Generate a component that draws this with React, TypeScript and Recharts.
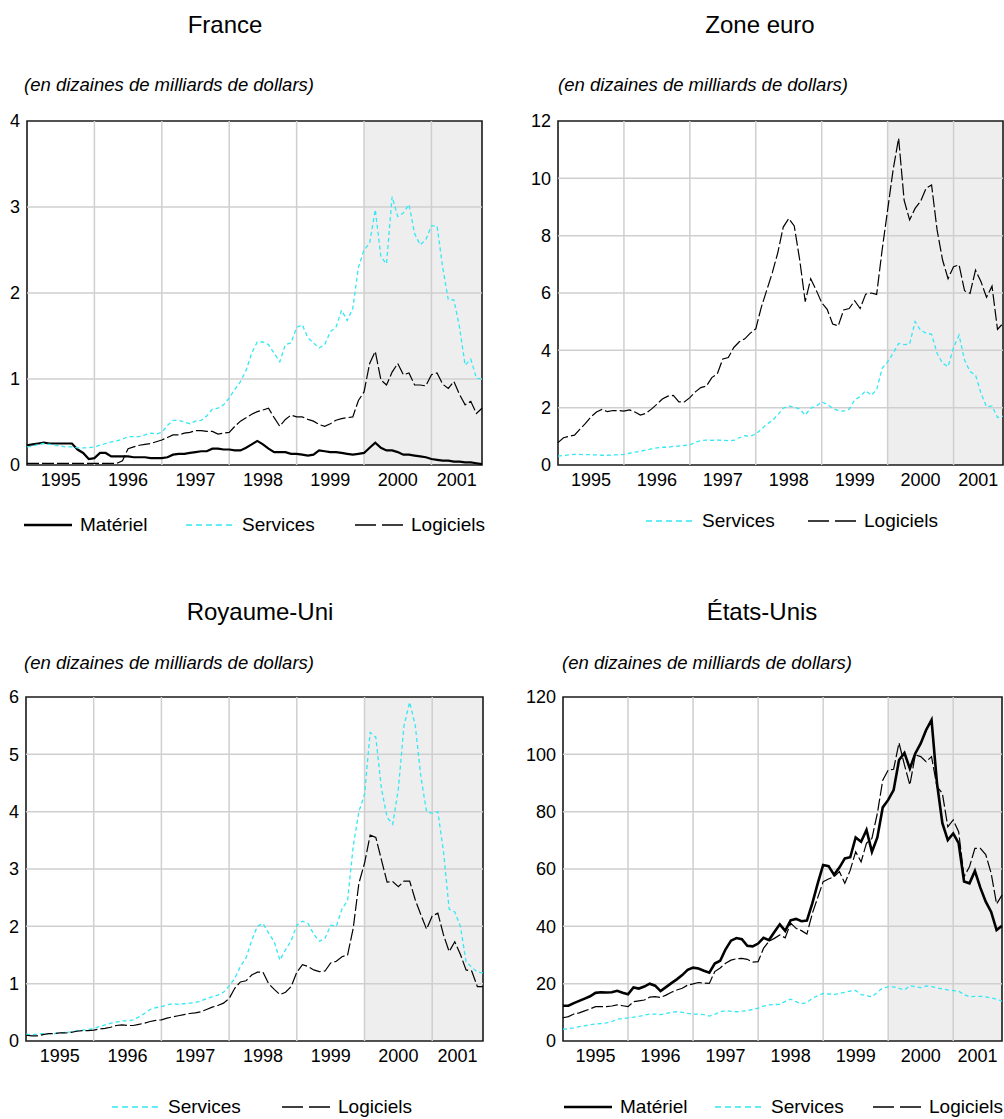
import { LineChart, Line, XAxis, YAxis, ReferenceArea, ReferenceLine } from "recharts";

// months since Jan 1995 (0 .. 81 ≈ Oct 2001)
const months = Array.from({ length: 82 }, (_, i) => i);
const years = ["1995", "1996", "1997", "1998", "1999", "2000", "2001"];
const yearLabelPos = [6, 18, 30, 42, 54, 66, 76.5];
const yearBounds = [12, 24, 36, 48, 60, 72];
const shadeFrom = 60;
const lastMonth = 81;

const franceMateriel = [
  0.23, 0.24, 0.25, 0.26, 0.25, 0.25, 0.25, 0.25, 0.25, 0.18, 0.14, 0.07, 0.08, 0.14, 0.14, 0.1, 0.1, 0.1, 0.1, 0.09,
  0.09, 0.09, 0.08, 0.08, 0.08, 0.09, 0.12, 0.13, 0.13, 0.14, 0.15, 0.16, 0.16, 0.19, 0.19, 0.18, 0.18, 0.17, 0.17, 0.2,
  0.24, 0.28, 0.24, 0.19, 0.15, 0.15, 0.15, 0.13, 0.13, 0.12, 0.11, 0.12, 0.17, 0.16, 0.15, 0.15, 0.14, 0.13, 0.12, 0.13,
  0.14, 0.2, 0.26, 0.2, 0.17, 0.17, 0.15, 0.12, 0.12, 0.11, 0.1, 0.09, 0.07, 0.06, 0.05, 0.05, 0.04, 0.04, 0.03, 0.03,
  0.02, 0.01,
];
const franceServices = [
  0.21, 0.22, 0.24, 0.25, 0.24, 0.23, 0.22, 0.21, 0.21, 0.2, 0.2, 0.2, 0.21, 0.23, 0.25, 0.27, 0.28, 0.3, 0.33, 0.33,
  0.33, 0.35, 0.37, 0.36, 0.38, 0.46, 0.52, 0.52, 0.5, 0.48, 0.51, 0.52, 0.57, 0.65, 0.66, 0.7, 0.78, 0.88, 0.97, 1.1,
  1.3, 1.43, 1.43, 1.4, 1.3, 1.2, 1.4, 1.42, 1.6, 1.63, 1.48, 1.42, 1.36, 1.4, 1.55, 1.6, 1.8, 1.68, 1.82, 2.3,
  2.5, 2.58, 2.97, 2.42, 2.34, 3.12, 2.89, 2.93, 3.03, 2.69, 2.56, 2.62, 2.78, 2.78, 2.3, 1.92, 1.92, 1.6, 1.16, 1.23,
  1.01, 1.0,
];
const franceLogiciels = [
  0.02, 0.02, 0.02, 0.02, 0.02, 0.02, 0.02, 0.02, 0.02, 0.02, 0.02, 0.02, 0.02, 0.02, 0.02, 0.02, 0.02, 0.05, 0.19, 0.21,
  0.23, 0.24, 0.25, 0.27, 0.29, 0.32, 0.35, 0.35, 0.37, 0.38, 0.4, 0.4, 0.39, 0.39, 0.36, 0.37, 0.38, 0.45, 0.51, 0.55,
  0.59, 0.62, 0.64, 0.66, 0.55, 0.45, 0.53, 0.58, 0.56, 0.56, 0.53, 0.51, 0.47, 0.45, 0.48, 0.52, 0.54, 0.55, 0.56, 0.75,
  0.85, 1.18, 1.32, 0.99, 0.93, 1.08, 1.18, 1.05, 1.07, 0.93, 0.93, 0.92, 1.05, 1.07, 0.94, 0.89, 0.97, 0.82, 0.7, 0.74,
  0.6, 0.66,
];

const euroServices = [
  0.31, 0.33, 0.35, 0.37, 0.37, 0.36, 0.36, 0.35, 0.34, 0.34, 0.35, 0.35, 0.37, 0.41, 0.45, 0.48, 0.52, 0.56, 0.6, 0.62,
  0.62, 0.65, 0.66, 0.68, 0.7, 0.8, 0.85, 0.87, 0.86, 0.87, 0.86, 0.85, 0.86, 0.95, 1.02, 1.0, 1.08, 1.25, 1.42, 1.55,
  1.75, 1.98, 2.06, 2.02, 1.95, 1.74, 1.98, 2.05, 2.2, 2.12, 1.98, 1.9, 1.88, 1.95, 2.27, 2.39, 2.59, 2.43, 2.62, 3.37,
  3.6, 3.9, 4.24, 4.2, 4.22, 5.0, 4.7, 4.6, 4.56, 3.9, 3.55, 3.43, 4.1, 4.53, 3.66, 3.26, 3.14, 2.5, 2.03, 2.06,
  1.66, 1.7,
];
const euroLogiciels = [
  0.78, 0.95, 1.0, 1.04, 1.25, 1.45, 1.68, 1.85, 1.94, 1.86, 1.9, 1.9, 1.88, 1.92, 1.85, 1.74, 1.8, 1.95, 2.12, 2.3,
  2.4, 2.43, 2.2, 2.2, 2.35, 2.55, 2.7, 2.75, 3.05, 3.18, 3.7, 3.75, 4.1, 4.3, 4.4, 4.6, 4.75, 5.5, 6.1, 6.7,
  7.4, 8.3, 8.6, 8.34, 7.15, 5.7, 6.5, 6.1, 5.66, 5.43, 4.92, 4.85, 5.41, 5.46, 5.73, 5.46, 5.96, 6.0, 5.95, 7.5,
  8.9, 10.3, 11.4, 9.24, 8.55, 8.95, 9.2, 9.65, 9.77, 8.2, 7.15, 6.5, 6.92, 6.98, 6.08, 5.99, 6.8, 6.39, 5.85, 6.24,
  4.73, 4.94,
];

const ukServices = [
  0.12, 0.11, 0.12, 0.13, 0.13, 0.13, 0.14, 0.15, 0.16, 0.18, 0.19, 0.2, 0.22, 0.25, 0.28, 0.31, 0.33, 0.35, 0.35, 0.37,
  0.42, 0.48, 0.55, 0.58, 0.6, 0.63, 0.65, 0.64, 0.65, 0.66, 0.67, 0.7, 0.74, 0.77, 0.8, 0.85, 0.96, 1.09, 1.3, 1.45,
  1.75, 2.0, 2.05, 1.88, 1.73, 1.41, 1.59, 1.75, 2.02, 2.09, 2.05, 1.86, 1.74, 1.79, 2.02, 2.0, 2.3, 2.45, 3.4, 4.0,
  4.3, 5.38, 5.3, 4.4, 3.9, 3.78, 4.4, 5.5, 5.91, 5.5, 4.6, 4.0, 3.97, 4.0, 3.3, 2.3, 2.25, 2.0, 1.38, 1.29,
  1.2, 1.19,
];
const ukLogiciels = [
  0.1, 0.09, 0.09, 0.11, 0.13, 0.13, 0.14, 0.14, 0.15, 0.17, 0.18, 0.18, 0.19, 0.21, 0.22, 0.24, 0.27, 0.28, 0.27, 0.27,
  0.29, 0.31, 0.34, 0.36, 0.37, 0.4, 0.42, 0.44, 0.46, 0.48, 0.49, 0.51, 0.55, 0.59, 0.62, 0.66, 0.74, 0.92, 1.03, 1.05,
  1.15, 1.2, 1.2, 1.0, 0.9, 0.81, 0.85, 0.95, 1.2, 1.33, 1.3, 1.24, 1.21, 1.22, 1.36, 1.39, 1.47, 1.5, 1.97, 2.75,
  3.1, 3.59, 3.55, 3.16, 2.77, 2.78, 2.69, 2.79, 2.79, 2.46, 2.2, 1.95, 2.18, 2.23, 1.85, 1.56, 1.73, 1.51, 1.24, 1.22,
  0.95, 0.95,
];

const usMateriel = [
  12.3, 12.3, 13.2, 14.0, 14.8, 15.6, 16.8, 17.0, 16.9, 17.0, 17.5, 16.8, 16.3, 18.7, 18.3, 19.0, 20.0, 19.3, 17.4, 18.8,
  20.2, 21.5, 23.0, 24.8, 25.6, 25.3, 24.5, 23.8, 27.0, 28.0, 32.0, 35.0, 35.9, 35.5, 33.2, 33.0, 34.0, 36.0, 35.2, 38.0,
  40.7, 38.4, 42.1, 42.6, 41.8, 42.0, 48.0, 55.0, 61.4, 61.0, 58.0, 60.5, 63.7, 64.1, 71.0, 69.5, 73.6, 66.0, 71.0, 81.5,
  84.1, 87.5, 98.0, 100.5, 95.0, 100.3, 103.8, 108.5, 112.0, 90.0, 76.0, 70.1, 72.4, 69.0, 55.6, 55.0, 59.3, 53.5, 48.6, 45.0,
  38.7, 40.2,
];
const usServices = [
  4.1, 4.3, 4.6, 5.0, 5.3, 5.7, 5.9, 6.1, 6.3, 6.8, 7.6, 7.8, 8.1, 8.3, 8.6, 9.0, 9.4, 9.4, 9.2, 9.6,
  10.0, 10.2, 10.0, 9.6, 9.4, 9.4, 9.2, 8.7, 9.3, 10.2, 10.6, 10.3, 10.2, 10.4, 10.6, 11.0, 11.5, 12.2, 12.6, 12.7,
  12.8, 13.8, 14.6, 13.7, 13.0, 13.4, 14.9, 15.8, 16.6, 16.4, 16.2, 16.6, 17.0, 17.4, 17.6, 16.2, 15.8, 15.4, 17.0, 18.5,
  18.9, 18.9, 18.4, 17.8, 19.3, 18.9, 18.6, 19.2, 19.0, 18.5, 18.2, 17.8, 17.6, 17.4, 16.2, 15.4, 15.6, 15.6, 15.4, 15.0,
  14.6, 13.9,
];
const usLogiciels = [
  8.1, 8.5, 9.4, 9.8, 10.5, 11.2, 12.0, 12.0, 12.0, 12.2, 12.6, 12.3, 12.0, 13.7, 14.0, 14.3, 15.3, 15.5, 15.2, 16.0,
  17.0, 17.8, 18.4, 19.5, 19.9, 20.4, 20.2, 20.1, 24.2, 25.5, 27.1, 28.2, 28.7, 28.8, 28.5, 27.5, 27.7, 32.3, 34.8, 35.8,
  37.0, 36.0, 41.1, 39.3, 38.5, 37.3, 44.5, 50.0, 55.6, 56.5, 57.3, 59.1, 55.0, 59.6, 66.0, 62.5, 69.0, 70.7, 79.4, 91.0,
  94.5, 94.8, 104.0, 96.3, 89.3, 99.8, 99.2, 97.4, 99.2, 88.7, 86.4, 74.7, 77.1, 73.0, 57.3, 60.8, 67.2, 67.2, 65.0, 58.5,
  47.8, 50.9,
];

const FONT = "'Liberation Sans', Arial, Helvetica, sans-serif";
const CYAN = "#33e8f5";

type Kind = "materiel" | "services" | "logiciels";
const LABELS: Record<Kind, string> = { materiel: "Matériel", services: "Services", logiciels: "Logiciels" };

function lineStyle(kind: Kind, heavy = false) {
  if (kind === "materiel") return { stroke: "#000", strokeWidth: heavy ? 2.6 : 2.2 };
  if (kind === "services") return { stroke: CYAN, strokeWidth: 1.3, strokeDasharray: "4 3" };
  return { stroke: "#000", strokeWidth: 1.2, strokeDasharray: "12 3" };
}

type PanelProps = {
  left: number;
  top: number;
  yWidth: number;
  plotW: number;
  plotH: number;
  yMax: number;
  yTicks: number[];
  series: { kind: Kind; values: number[] }[];
  heavy?: boolean;
};

function Panel({ left, top, yWidth, plotW, plotH, yMax, yTicks, series, heavy }: PanelProps) {
  const rows = months.map((t, i) => {
    const row: Record<string, number> = { t };
    series.forEach((s) => (row[s.kind] = s.values[i]));
    return row;
  });
  const tick = { fill: "#000", fontSize: 18, fontFamily: FONT };
  return (
    <div style={{ position: "absolute", left, top }}>
      <LineChart width={yWidth + plotW + 2} height={10 + plotH + 30} data={rows} margin={{ top: 10, right: 2, bottom: 0, left: 0 }}>
        <XAxis
          type="number"
          dataKey="t"
          domain={[0, lastMonth]}
          ticks={yearLabelPos}
          interval={0}
          tickFormatter={(v) => years[yearLabelPos.indexOf(Number(v))] ?? ""}
          tick={tick}
          tickLine={false}
          axisLine={false}
          tickMargin={2}
          height={30}
        />
        <YAxis domain={[0, yMax]} ticks={yTicks} interval={0} width={yWidth} tick={tick} tickLine={false} axisLine={false} tickMargin={1} />
        <ReferenceArea x1={shadeFrom} x2={lastMonth} y1={0} y2={yMax} fill="#000" fillOpacity={0.065} stroke="none" />
        {yearBounds.map((x) => (
          <ReferenceLine key={"x" + x} x={x} stroke="#cfcfcf" strokeWidth={1.5} />
        ))}
        {yTicks.slice(1, -1).map((y) => (
          <ReferenceLine key={"y" + y} y={y} stroke="#cfcfcf" strokeWidth={1.5} />
        ))}
        {series.map((s) => (
          <Line key={s.kind} type="linear" dataKey={s.kind} dot={false} activeDot={false} isAnimationActive={false} {...lineStyle(s.kind, heavy)} />
        ))}
        <ReferenceArea x1={0} x2={lastMonth} y1={0} y2={yMax} fill="none" stroke="#1a1a1a" strokeWidth={1.6} />
      </LineChart>
    </div>
  );
}

function LegendRow({ top, items }: { top: number; items: { kind: Kind; x: number }[] }) {
  return (
    <>
      {items.map(({ kind, x }) => {
        const st = lineStyle(kind);
        const dash = kind === "services" ? "6 4" : kind === "logiciels" ? "21 6" : undefined;
        return (
          <div key={kind} style={{ position: "absolute", left: x, top: top - 11, height: 22, display: "flex", alignItems: "center", fontFamily: FONT, fontSize: 19 }}>
            <svg width={48} height={6} style={{ marginRight: 8 }}>
              <line x1={0} y1={3} x2={48} y2={3} stroke={st.stroke} strokeWidth={kind === "materiel" ? 2.6 : 1.4} strokeDasharray={dash} />
            </svg>
            <span>{LABELS[kind]}</span>
          </div>
        );
      })}
    </>
  );
}

function Title({ x, y, text }: { x: number; y: number; text: string }) {
  return (
    <div style={{ position: "absolute", left: x - 150, top: y - 15, width: 300, textAlign: "center", fontFamily: FONT, fontSize: 24, lineHeight: "30px" }}>
      {text}
    </div>
  );
}

function Unit({ x, y }: { x: number; y: number }) {
  return (
    <div style={{ position: "absolute", left: x, top: y - 11, fontFamily: FONT, fontSize: 18.5, fontStyle: "italic", lineHeight: "22px", whiteSpace: "nowrap" }}>
      (en dizaines de milliards de dollars)
    </div>
  );
}

export default function App() {
  return (
    <div style={{ position: "absolute", left: 0, top: 0, width: 1004, height: 1119, background: "#fff", overflow: "hidden" }}>
      <Title x={225} y={25} text="France" />
      <Unit x={24} y={85} />
      <Panel
        left={0}
        top={111}
        yWidth={27}
        plotW={455}
        plotH={344}
        yMax={4}
        yTicks={[0, 1, 2, 3, 4]}
        series={[
          { kind: "materiel", values: franceMateriel },
          { kind: "services", values: franceServices },
          { kind: "logiciels", values: franceLogiciels },
        ]}
      />
      <LegendRow top={525} items={[{ kind: "materiel", x: 24 }, { kind: "services", x: 186 }, { kind: "logiciels", x: 355 }]} />

      <Title x={760} y={25} text="Zone euro" />
      <Unit x={558} y={85} />
      <Panel
        left={518}
        top={111}
        yWidth={40}
        plotW={445}
        plotH={344}
        yMax={12}
        yTicks={[0, 2, 4, 6, 8, 10, 12]}
        series={[
          { kind: "services", values: euroServices },
          { kind: "logiciels", values: euroLogiciels },
        ]}
      />
      <LegendRow top={521} items={[{ kind: "services", x: 646 }, { kind: "logiciels", x: 808 }]} />

      <Title x={260} y={612} text="Royaume-Uni" />
      <Unit x={24} y={663} />
      <Panel
        left={0}
        top={687}
        yWidth={26}
        plotW={457}
        plotH={344}
        yMax={6}
        yTicks={[0, 1, 2, 3, 4, 5, 6]}
        series={[
          { kind: "services", values: ukServices },
          { kind: "logiciels", values: ukLogiciels },
        ]}
      />
      <LegendRow top={1107} items={[{ kind: "services", x: 112 }, { kind: "logiciels", x: 282 }]} />

      <Title x={762} y={612} text="États-Unis" />
      <Unit x={562} y={663} />
      <Panel
        left={518}
        top={687}
        yWidth={45}
        plotW={439}
        plotH={344}
        yMax={120}
        yTicks={[0, 20, 40, 60, 80, 100, 120]}
        heavy
        series={[
          { kind: "materiel", values: usMateriel },
          { kind: "services", values: usServices },
          { kind: "logiciels", values: usLogiciels },
        ]}
      />
      <LegendRow top={1107} items={[{ kind: "materiel", x: 564 }, { kind: "services", x: 715 }, { kind: "logiciels", x: 873 }]} />
    </div>
  );
}
